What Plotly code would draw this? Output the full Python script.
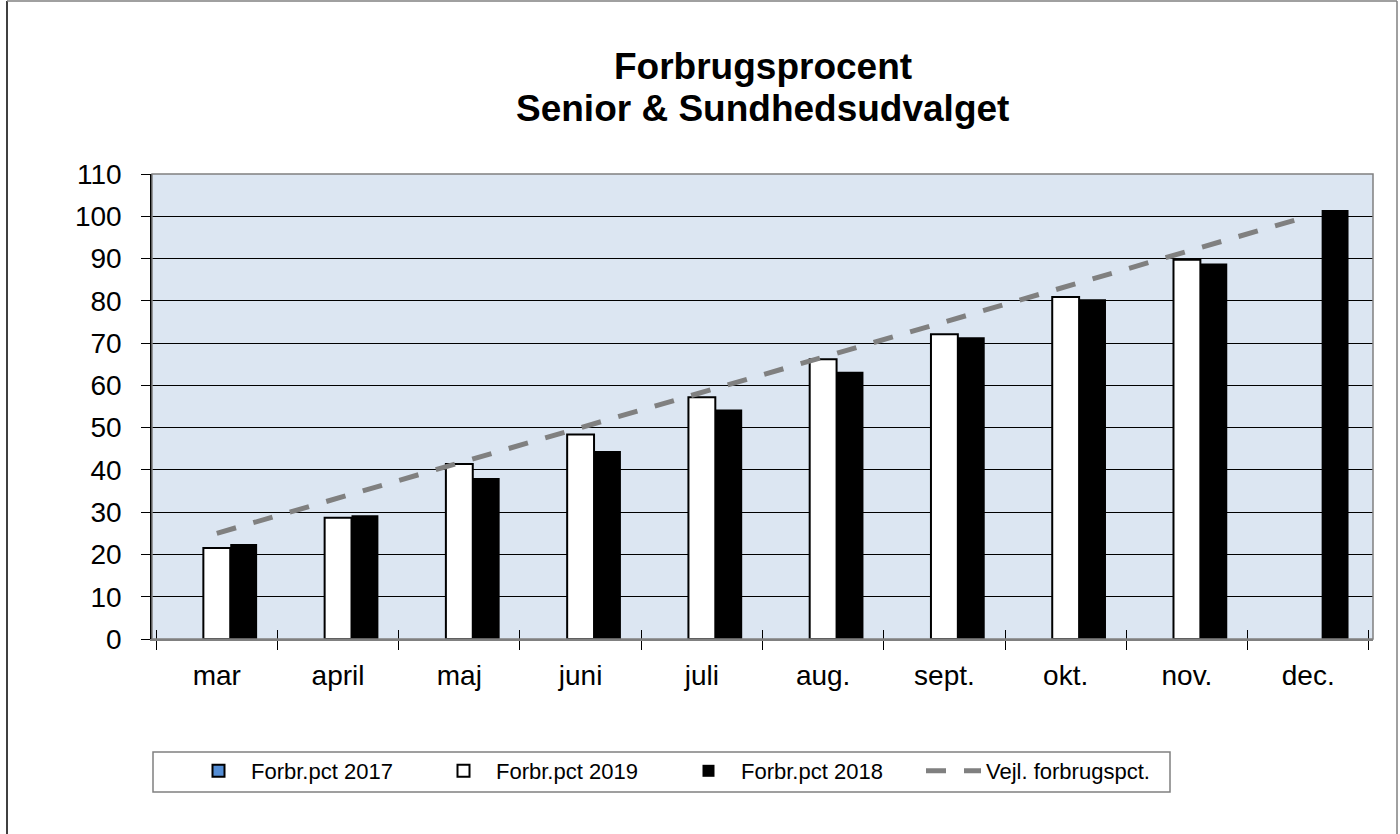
import plotly.graph_objects as go

months = ["mar", "april", "maj", "juni", "juli", "aug.", "sept.", "okt.", "nov.", "dec."]
pct_2017 = [None, None, None, None, None, None, None, None, None, None]
pct_2019 = [21.5, 28.7, 41.4, 48.4, 57.2, 66.2, 72.1, 80.9, 89.7, None]
pct_2018 = [22.5, 29.3, 38.1, 44.5, 54.3, 63.2, 71.4, 80.4, 88.8, 101.5]
vejl = [25, 33.3, 41.7, 50, 58.3, 66.7, 75, 83.3, 91.7, 100]
title_lines = ["Forbrugsprocent", "Senior & Sundhedsudvalget"]

FONT = "Liberation Sans, Arial, sans-serif"
W, H = 1400, 834
L, R, T, B = 152, 27, 174, 195
pw, ph = W - L - R, H - T - B


def px_x(p):
    return (p - L) / pw


def px_y(p):
    return (H - B - p) / ph


fig = go.Figure()
fig.add_trace(go.Bar(name="Forbr.pct 2017", x=months, y=pct_2017,
                     marker=dict(color="#558ED5", line=dict(color="black", width=2))))
fig.add_trace(go.Bar(name="Forbr.pct 2019", x=months, y=pct_2019,
                     marker=dict(color="white", line=dict(color="black", width=2))))
fig.add_trace(go.Bar(name="Forbr.pct 2018", x=months, y=pct_2018,
                     marker=dict(color="black", line=dict(color="black", width=0))))
fig.add_trace(go.Scatter(name="Vejl. forbrugspct.", x=months, y=vejl, mode="lines",
                         line=dict(color="#808080", width=5, dash="20px,18px")))
# helper trace for inside tick marks on the category axis
fig.add_trace(go.Scatter(x=months, y=[0] * len(months), xaxis="x2", mode="markers",
                         marker=dict(opacity=0), showlegend=False, hoverinfo="skip"))

shapes = [
    # plot area border
    dict(type="rect", xref="paper", yref="paper", x0=0, x1=1, y0=0, y1=1,
         line=dict(color="#808080", width=1.5), layer="above"),
    # outer chart border
    dict(type="line", xref="paper", yref="paper", x0=px_x(7), x1=px_x(7), y0=px_y(1), y1=px_y(840),
         line=dict(color="black", width=1.5)),
    dict(type="line", xref="paper", yref="paper", x0=px_x(7), x1=px_x(1397), y0=px_y(1), y1=px_y(1),
         line=dict(color="#808080", width=1.5)),
    dict(type="line", xref="paper", yref="paper", x0=px_x(1397), x1=px_x(1397), y0=px_y(1), y1=px_y(840),
         line=dict(color="#808080", width=1.5)),
    # legend frame
    dict(type="rect", xref="paper", yref="paper", x0=px_x(153), x1=px_x(1170),
         y0=px_y(792), y1=px_y(752), fillcolor="white",
         line=dict(color="#808080", width=1.5), layer="above"),
]

annotations = [
    dict(text="<b>%s</b>" % title_lines[0], xref="paper", yref="paper", x=0.5, y=px_y(67),
         xanchor="center", yanchor="middle", showarrow=False,
         font=dict(family=FONT, size=37, color="black")),
    dict(text="<b>%s</b>" % title_lines[1], xref="paper", yref="paper", x=0.5, y=px_y(109),
         xanchor="center", yanchor="middle", showarrow=False,
         font=dict(family=FONT, size=37, color="black")),
]

fig.update_layout(
    width=W, height=H,
    margin=dict(l=L, r=R, t=T, b=B, autoexpand=False),
    paper_bgcolor="white", plot_bgcolor="#DCE6F2",
    font=dict(family=FONT, size=28, color="black"),
    barmode="group", bargap=0.335, bargroupgap=0,
    showlegend=True,
    legend=dict(orientation="h", x=px_x(186), y=px_y(750), xanchor="left", yanchor="top",
                bgcolor="rgba(0,0,0,0)", borderwidth=0,
                font=dict(family=FONT, size=22, color="black"),
                itemwidth=55, entrywidth=175, traceorder="normal"),
    xaxis=dict(type="category", categoryorder="array", categoryarray=months,
               showgrid=False, showline=True, linecolor="#808080", linewidth=1.5,
               ticks="outside", ticklen=9, tickcolor="black", tickwidth=1,
               tickson="boundaries", ticklabelstandoff=11,
               tickfont=dict(family=FONT, size=28, color="black")),
    xaxis2=dict(type="category", categoryorder="array", categoryarray=months,
                overlaying="x", matches="x", anchor="y", showgrid=False, showline=False,
                ticks="inside", ticklen=9, tickcolor="black", tickwidth=1,
                tickson="boundaries", showticklabels=False),
    yaxis=dict(range=[0, 110], tick0=0, dtick=10, showgrid=True, gridcolor="black", gridwidth=1,
               showline=True, linecolor="black", linewidth=1.5,
               ticks="outside", ticklen=9, tickcolor="black", tickwidth=1,
               ticklabelstandoff=14, zeroline=False,
               tickfont=dict(family=FONT, size=28, color="black")),
    shapes=shapes, annotations=annotations,
)

fig.write_html("out.html", config={"displayModeBar": False},
               post_script="document.body.style.margin='0';document.body.style.overflow='hidden';")
